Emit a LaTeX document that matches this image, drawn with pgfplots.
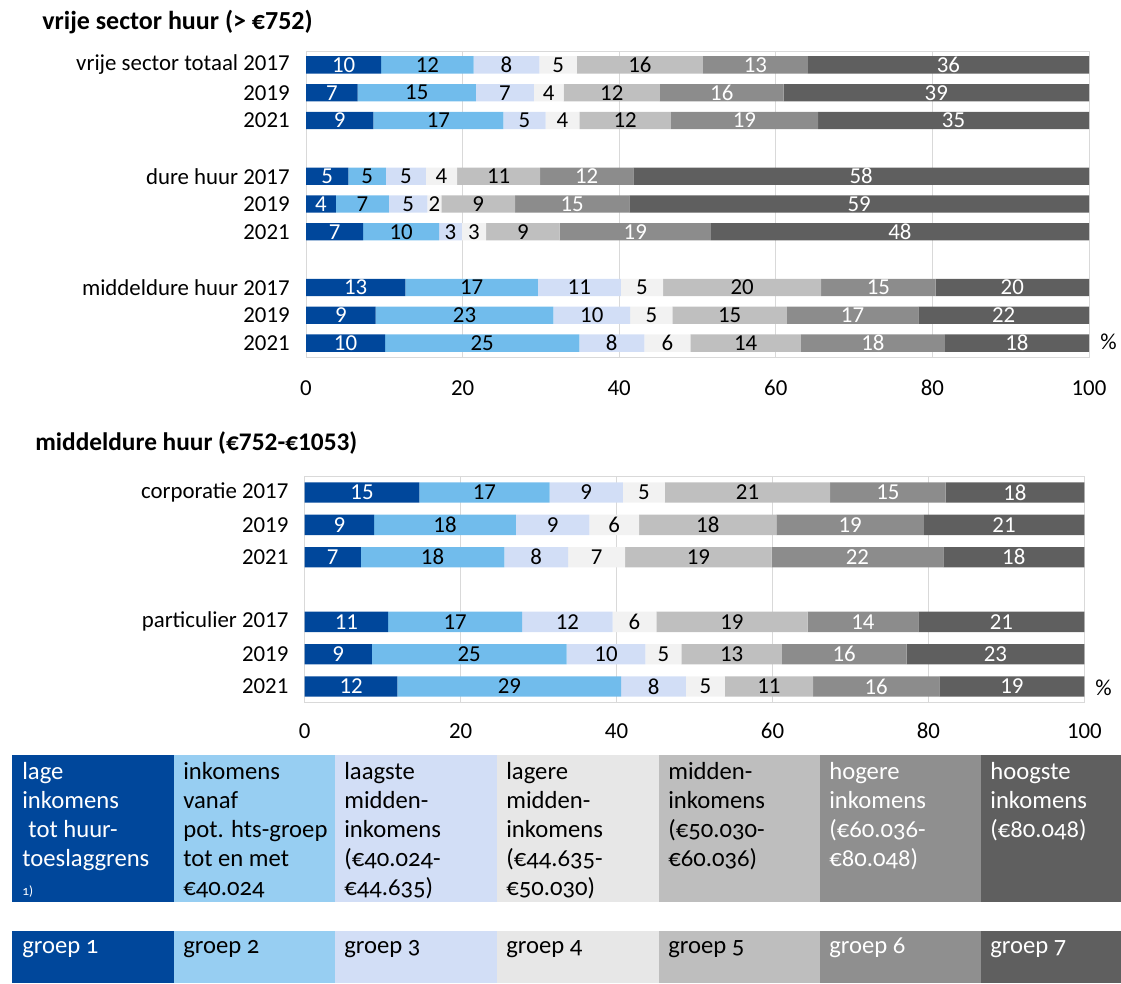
\documentclass[border=0pt]{standalone}
\usepackage{pgfplots}
\pgfplotsset{compat=1.18}
\usepackage{pgfplotstable}
\usepackage{fontspec}
\setmainfont{Carlito}
\newfontfamily\legfont[Numbers=OldStyle]{Carlito}

% bar colours
\definecolor{bA}{HTML}{00479B}
\definecolor{bB}{HTML}{71BCEC}
\definecolor{bC}{HTML}{D2DEF6}
\definecolor{bD}{HTML}{F2F2F2}
\definecolor{bE}{HTML}{BFBFBF}
\definecolor{bF}{HTML}{8C8C8C}
\definecolor{bG}{HTML}{5F5F5F}
% legend colours
\definecolor{lA}{HTML}{00479B}
\definecolor{lB}{HTML}{97CEF2}
\definecolor{lC}{HTML}{D2DEF6}
\definecolor{lD}{HTML}{E7E7E7}
\definecolor{lE}{HTML}{BEBEBE}
\definecolor{lF}{HTML}{8F8F8F}
\definecolor{lG}{HTML}{5F5F5F}
\definecolor{gridc}{HTML}{D9D9D9}

% vrije sector: rows 0-2 totaal, 4-6 dure huur, 8-10 middeldure huur
\pgfplotstableread{
y  g1   g2   g3   g4  g5   g6   g7
0  9.6  11.8 8.4  4.8 16.1 13.4 35.9
1  6.6  15.1 7.4  3.8 12.3 15.8 39.0
2  8.6  16.6 5.4  4.3 11.7 18.8 34.6
4  5.4  4.8  5.1  4.0 10.6 11.9 58.2
5  3.8  6.8  4.9  1.8 9.4  14.6 58.7
6  7.3  9.7  2.9  3.1 9.4  19.3 48.3
8  12.7 16.9 10.6 5.4 20.2 14.6 19.6
9  8.9  22.7 9.8  5.4 14.6 16.8 21.8
10 10.1 24.8 8.3  5.9 14.1 18.4 18.4
}\vrij

% middeldure huur: rows 0-2 corporatie, 4-6 particulier
\pgfplotstableread{
y  g1   g2   g3   g4  g5   g6   g7
0  14.7 16.7 9.4  5.4 21.2 14.8 17.8
1  8.9  18.2 9.4  6.4 17.6 18.9 20.6
2  7.2  18.4 8.2  7.3 18.8 22.0 18.1
4  10.7 17.2 11.6 5.6 19.4 14.2 21.3
5  8.6  25.0 10.1 4.6 12.9 16.0 22.8
6  11.9 28.7 8.3  5.0 11.3 16.2 18.6
}\midd

\pgfplotsset{
  hbars/.style={
    scale only axis, anchor=south west,
    xbar stacked, xmin=0, xmax=100, y dir=reverse,
    xtick={0,20,...,100},
    xmajorgrids, major grid style={gridc},
    axis line style={gridc},
    major tick length=0pt,
    /pgf/number format/assume math mode=true,
    yticklabel style={anchor=east, inner sep=0pt, xshift=-9.6pt},
    nodes near coords={\pgfmathprintnumber[fixed,precision=0]{\pgfplotspointmeta}},
    every node near coord/.append style={anchor=center, inner sep=0pt},
  },
  seg/.style 2 args={fill=#2, draw=none, point meta=\thisrow{#1}},
  wlab/.style={every node near coord/.append style={text=white}},
  klab/.style={every node near coord/.append style={text=black}},
}

\begin{document}
\fontsize{13.7}{16}\selectfont
\begin{tikzpicture}

% ---- top chart
\begin{axis}[hbars,
  at={(183.6pt,375.6pt)}, width=469.8pt, height=183.6pt,
  ymin=-0.5, ymax=10.5, bar width=10.4pt,
  ytick={0,1,2,4,5,6,8,9,10},
  yticklabels={vrije sector totaal 2017,2019,2021,dure huur 2017,2019,2021,middeldure huur 2017,2019,2021},
  xticklabel style={anchor=center, yshift=-18.6pt},
]
\addplot[seg={g1}{bA}, wlab] table[x=g1,y=y]{\vrij};
\addplot[seg={g2}{bB}, klab] table[x=g2,y=y]{\vrij};
\addplot[seg={g3}{bC}, klab] table[x=g3,y=y]{\vrij};
\addplot[seg={g4}{bD}, klab] table[x=g4,y=y]{\vrij};
\addplot[seg={g5}{bE}, klab] table[x=g5,y=y]{\vrij};
\addplot[seg={g6}{bF}, wlab] table[x=g6,y=y]{\vrij};
\addplot[seg={g7}{bG}, wlab] table[x=g7,y=y]{\vrij};
\end{axis}

% ---- bottom chart
\begin{axis}[hbars,
  at={(182.82pt,168.18pt)}, width=467.8pt, height=135.8pt,
  ymin=-0.5, ymax=6.5, bar width=12.2pt,
  ytick={0,1,2,4,5,6},
  yticklabels={corporatie 2017,2019,2021,particulier 2017,2019,2021},
  xticklabel style={anchor=center, yshift=-17pt},
]
\addplot[seg={g1}{bA}, wlab] table[x=g1,y=y]{\midd};
\addplot[seg={g2}{bB}, klab] table[x=g2,y=y]{\midd};
\addplot[seg={g3}{bC}, klab] table[x=g3,y=y]{\midd};
\addplot[seg={g4}{bD}, klab] table[x=g4,y=y]{\midd};
\addplot[seg={g5}{bE}, klab] table[x=g5,y=y]{\midd};
\addplot[seg={g6}{bF}, wlab] table[x=g6,y=y]{\midd};
\addplot[seg={g7}{bG}, wlab] table[x=g7,y=y]{\midd};
\end{axis}

% ---- everything else, in pixel units of the reference
\begin{scope}[x=0.6pt,y=0.6pt]
\path (0,0) rectangle (1121,983);
\node[anchor=west, inner sep=0pt, font=\bfseries\fontsize{15.6}{18}\selectfont] at (42,{983-22}) {vrije sector huur (> €752)};
\node[anchor=west, inner sep=0pt, font=\bfseries\fontsize{15.2}{18}\selectfont] at (35,{983-443}) {middeldure huur (€752-€1053)};
\node[anchor=west, inner sep=0pt] at (1100,{983-342}) {\%};
\node[anchor=west, inner sep=0pt] at (1095,{983-688}) {\%};

\begin{scope}[every node/.style={anchor=north west, inner sep=0pt, align=left,
    font=\legfont\fontsize{14.8}{17.4}\selectfont}]
\fill[lA] (12,81) rectangle (174,228);   \fill[lA] (12,0) rectangle (174,52);
\fill[lB] (174,81) rectangle (335,228);  \fill[lB] (174,0) rectangle (335,52);
\fill[lC] (335,81) rectangle (497,228);  \fill[lC] (335,0) rectangle (497,52);
\fill[lD] (497,81) rectangle (659,228);  \fill[lD] (497,0) rectangle (659,52);
\fill[lE] (659,81) rectangle (820,228);  \fill[lE] (659,0) rectangle (820,52);
\fill[lF] (820,81) rectangle (981,228);  \fill[lF] (820,0) rectangle (981,52);
\fill[lG] (981,81) rectangle (1121,228); \fill[lG] (981,0) rectangle (1121,52);

\node[text=white] at (22,221) {lage\\inkomens\\\hspace*{0.25em}tot huur-\\toeslaggrens\\{\fontsize{8}{10}\selectfont 1)}};
\node at (183,221) {inkomens\\vanaf\\pot. hts-groep\\tot en met\\€40.024};
\node at (344,221) {laagste\\midden-\\inkomens\\(€40.024-\\€44.635)};
\node at (506,221) {lagere\\midden-\\inkomens\\(€44.635-\\€50.030)};
\node at (668,221) {midden-\\inkomens\\(€50.030-\\€60.036)};
\node[text=white] at (829,221) {hogere\\inkomens\\(€60.036-\\€80.048)};
\node[text=white] at (990,221) {hoogste\\inkomens\\(€80.048)};

\begin{scope}[every node/.append style={anchor=base west}]
\node[text=white] at (22,30) {groep 1};
\node at (183,30) {groep 2};
\node at (344,30) {groep 3};
\node at (506,30) {groep 4};
\node at (668,30) {groep 5};
\node[text=white] at (829,30) {groep 6};
\node[text=white] at (990,30) {groep 7};
\end{scope}
\end{scope}
\end{scope}
\end{tikzpicture}
\end{document}
